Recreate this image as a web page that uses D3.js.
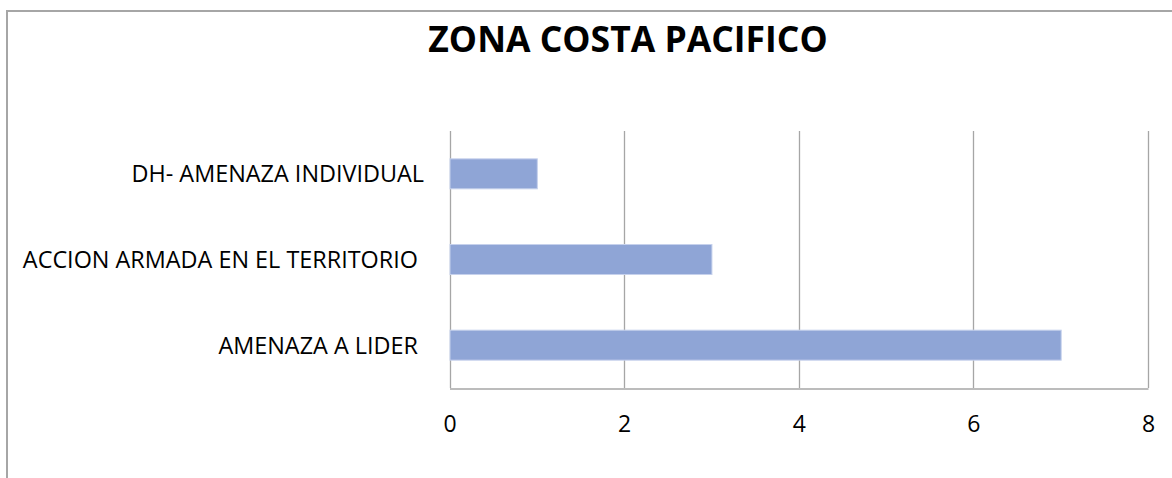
<!DOCTYPE html>
<html>
<head>
<meta charset="utf-8">
<script src="https://cdn.jsdelivr.net/npm/d3@7"></script>
<style>
    body { margin: 0; background: #fff; }
    text { font-family: "Open Sans", sans-serif; fill: #000; white-space: pre; }
</style>
</head>
<body>
<svg id="chart"></svg>
<script>
let categories = ["DH- AMENAZA INDIVIDUAL", "ACCION ARMADA EN EL TERRITORIO ", "AMENAZA A LIDER "];
let values = [1, 3, 7];
let xTicks = [0, 2, 4, 6, 8];
let title = "ZONA COSTA PACIFICO";

let barColor = "#8fa5d6";
let gridColor = "#a6a6a6";

let W = 1172, H = 478;
let plot = {left: 449.5, right: 1148, top: 131, bottom: 388};

let svg = d3.select("#chart")
    .attr("width", W)
    .attr("height", H);

// outer chart border (continues past the right and bottom edge)
svg.append("path")
    .attr("d", "M7," + H + " V11 H" + W)
    .attr("fill", "none")
    .attr("stroke", "#a6a6a6")
    .attr("stroke-width", 2);

svg.append("text")
    .attr("x", 628)
    .attr("y", 52)
    .attr("text-anchor", "middle")
    .style("font-size", "35.5px")
    .style("font-weight", "bold")
    .text(title);

let x = d3.scaleLinear()
    .domain([0, 8])
    .range([plot.left, plot.right]);

let y = d3.scaleBand()
    .domain(categories)
    .range([plot.top, plot.bottom])
    .paddingInner(0.65)
    .paddingOuter(0.325);

// vertical gridlines
svg.append("g")
    .selectAll("line")
    .data(xTicks)
    .enter()
    .append("line")
    .attr("x1", d => Math.round(x(d)) + 0.5)
    .attr("x2", d => Math.round(x(d)) + 0.5)
    .attr("y1", plot.top)
    .attr("y2", plot.bottom)
    .attr("stroke", gridColor)
    .attr("stroke-width", 1.3);

// bottom axis
let xAxis = svg.append("g")
    .attr("transform", "translate(0," + (plot.bottom + 0.5) + ")")
    .call(d3.axisBottom(x).tickValues(xTicks).tickSize(0).tickPadding(0));
xAxis.select(".domain")
    .attr("stroke", gridColor)
    .attr("stroke-width", 1.3);
xAxis.selectAll(".tick text")
    .attr("y", 43)
    .attr("dy", 0)
    .style("font-size", "23px")
    .style("font-family", "\"Open Sans\", sans-serif");

// bars
svg.append("g")
    .selectAll("rect")
    .data(values)
    .enter()
    .append("rect")
    .attr("x", plot.left + 0.5)
    .attr("y", (d, i) => y(categories[i]))
    .attr("width", d => x(d) - x(0))
    .attr("height", y.bandwidth())
    .attr("fill", barColor)
    .attr("stroke", "#c6d1ec")
    .attr("stroke-width", 1);

// category labels
svg.append("g")
    .selectAll("text")
    .data(categories)
    .enter()
    .append("text")
    .attr("x", 424)
    .attr("y", d => y(d) + y.bandwidth() / 2 + 8.5)
    .attr("text-anchor", "end")
    .style("font-size", "23.4px")
    .text(d => d);
</script>
</body>
</html>
